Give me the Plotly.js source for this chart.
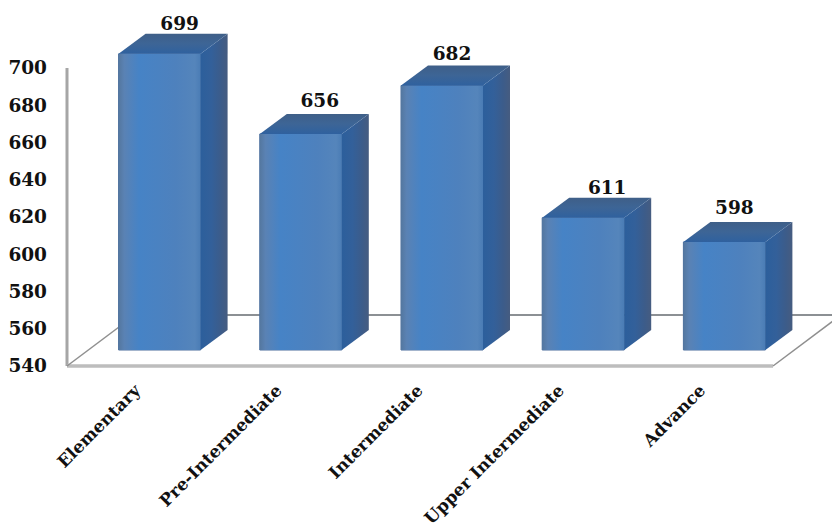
<!DOCTYPE html>
<html>
<head>
<meta charset="utf-8">
<script src="https://cdn.plot.ly/plotly-3.0.1.min.js"></script>
<style>html,body{margin:0;padding:0;background:#fff}#chart{width:832px;height:528px}</style>
</head>
<body>
<div id="chart"></div>
<script>
const categories = ["Elementary", "Pre-Intermediate", "Intermediate", "Upper Intermediate", "Advance"];
const values = [699, 656, 682, 611, 598];
const yTicks = [540, 560, 580, 600, 620, 640, 660, 680, 700];

// Pseudo-3D projection, expressed in axis units
const pxX = 141.2, pxY = 1.8625;
const liftX = 22 / pxX, liftY = 16 / pxY;        // bars stand part-way into the floor
const depthX = 27 / pxX, depthY = 20 / pxY;      // depth of each bar
const floorX = 68 / pxX, floorY = 51 / pxY;      // depth of the floor
const barW = 82 / pxX;
const base = 540 + liftY;
const labelShift = [20, 19, 10, 24, 10].map(p => p / pxX);
const labelRaise = [-1, 2, 1, -1, 3].map(p => p / pxY);

const FONT = '"DejaVu Serif", serif';
const centers = categories.map((_, i) => i + liftX);

const front = {
  type: 'bar', x: centers, y: values.map(v => v - 540), base: base, width: barW,
  marker: {color: '#4b80bf', line: {color: '#4a6d9c', width: 1}},
  hoverinfo: 'skip', showlegend: false
};
const traces = [front];

values.forEach((v, i) => {
  const xl = centers[i] - barW / 2, xr = centers[i] + barW / 2, top = v + liftY;
  // front sheen
  traces.push({
    type: 'scatter', mode: 'lines', x: [xl, xr, xr, xl, xl], y: [base, base, top, top, base],
    fill: 'toself', line: {width: 0}, showlegend: false, hoverinfo: 'skip',
    fillgradient: {type: 'horizontal', colorscale: [
      [0, '#54779f'], [0.07, '#5a82b4'], [0.25, '#4683c6'], [0.7, '#4e81bd'], [0.93, '#5585bb'], [1, '#4a7cb5']
    ]}
  });
  // side face
  traces.push({
    type: 'scatter', mode: 'lines',
    x: [xr, xr + depthX, xr + depthX, xr, xr],
    y: [base, base + depthY, top + depthY, top, base],
    fill: 'toself', line: {width: 0}, showlegend: false, hoverinfo: 'skip',
    fillgradient: {type: 'horizontal', colorscale: [
      [0, '#2c5f9c'], [0.4, '#33609a'], [0.75, '#3c5c8a'], [1, '#465c80']
    ]}
  });
  // top face
  traces.push({
    type: 'scatter', mode: 'lines',
    x: [xl, xl + depthX, xr + depthX, xr, xl],
    y: [top, top + depthY, top + depthY, top, top],
    fill: 'toself', line: {width: 0}, showlegend: false, hoverinfo: 'skip',
    fillgradient: {type: 'vertical', colorscale: [
      [0, '#2f619f'], [0.5, '#3d6596'], [1, '#3f5f88']
    ]}
  });
});

// value labels
traces.push({
  type: 'scatter', mode: 'text',
  x: centers.map((c, i) => c + labelShift[i]),
  y: values.map((v, i) => v + liftY + depthY + labelRaise[i]),
  text: values.map(String), textposition: 'top center',
  textfont: {family: FONT, size: 18.5, color: '#111', weight: 700},
  showlegend: false, hoverinfo: 'skip', cliponaxis: false
});

const x0 = -0.5, x1 = 4.5;
const layout = {
  width: 832, height: 528,
  margin: {l: 57, r: 0, t: 0, b: 152, pad: 0},
  paper_bgcolor: '#fff', plot_bgcolor: '#fff',
  showlegend: false,
  bargap: 0,
  xaxis: {
    range: [x0 - 10 / pxX, x1 + 59 / pxX], showgrid: false, zeroline: false, showline: false,
    tickmode: 'array', tickvals: categories.map((_, i) => i), ticktext: categories,
    tickangle: -45, ticklen: 0, ticklabelstandoff: 0, ticklabelshift: -2,
    tickfont: {family: FONT, size: 17, color: '#111', weight: 700}
  },
  yaxis: {
    range: [540 - 10 / pxY, 700 + 68 / pxY], showgrid: false, zeroline: false, showline: false,
    tickmode: 'array', tickvals: yTicks, ticktext: yTicks.map(String),
    ticklen: 0, ticklabelstandoff: 9, ticklabelshift: -1.5,
    tickfont: {family: FONT, size: 18.5, color: '#111', weight: 700}
  },
  shapes: [
    // value axis
    {type: 'line', layer: 'below', xref: 'x', yref: 'y', x0: x0, x1: x0, y0: 540, y1: 700, line: {color: '#a6a6a6', width: 3}},
    // floor
    {type: 'line', layer: 'below', xref: 'x', yref: 'y', x0: x0, x1: x1, y0: 540, y1: 540, line: {color: '#bdbdbd', width: 3.5}},
    {type: 'line', layer: 'below', xref: 'x', yref: 'y', x0: x0, x1: x0 + floorX, y0: 540, y1: 540 + floorY, line: {color: '#8f8f8f', width: 1.5}},
    {type: 'line', layer: 'below', xref: 'x', yref: 'y', x0: x1, x1: x1 + floorX, y0: 540, y1: 540 + floorY, line: {color: '#8f8f8f', width: 1.5}},
    {type: 'line', layer: 'below', xref: 'x', yref: 'y', x0: x0 + floorX, x1: x1 + floorX, y0: 540 + floorY, y1: 540 + floorY, line: {color: '#8c9094', width: 2}}
  ]
};
Plotly.newPlot('chart', traces, layout, {staticPlot: true, displayModeBar: false});
</script>
</body>
</html>
